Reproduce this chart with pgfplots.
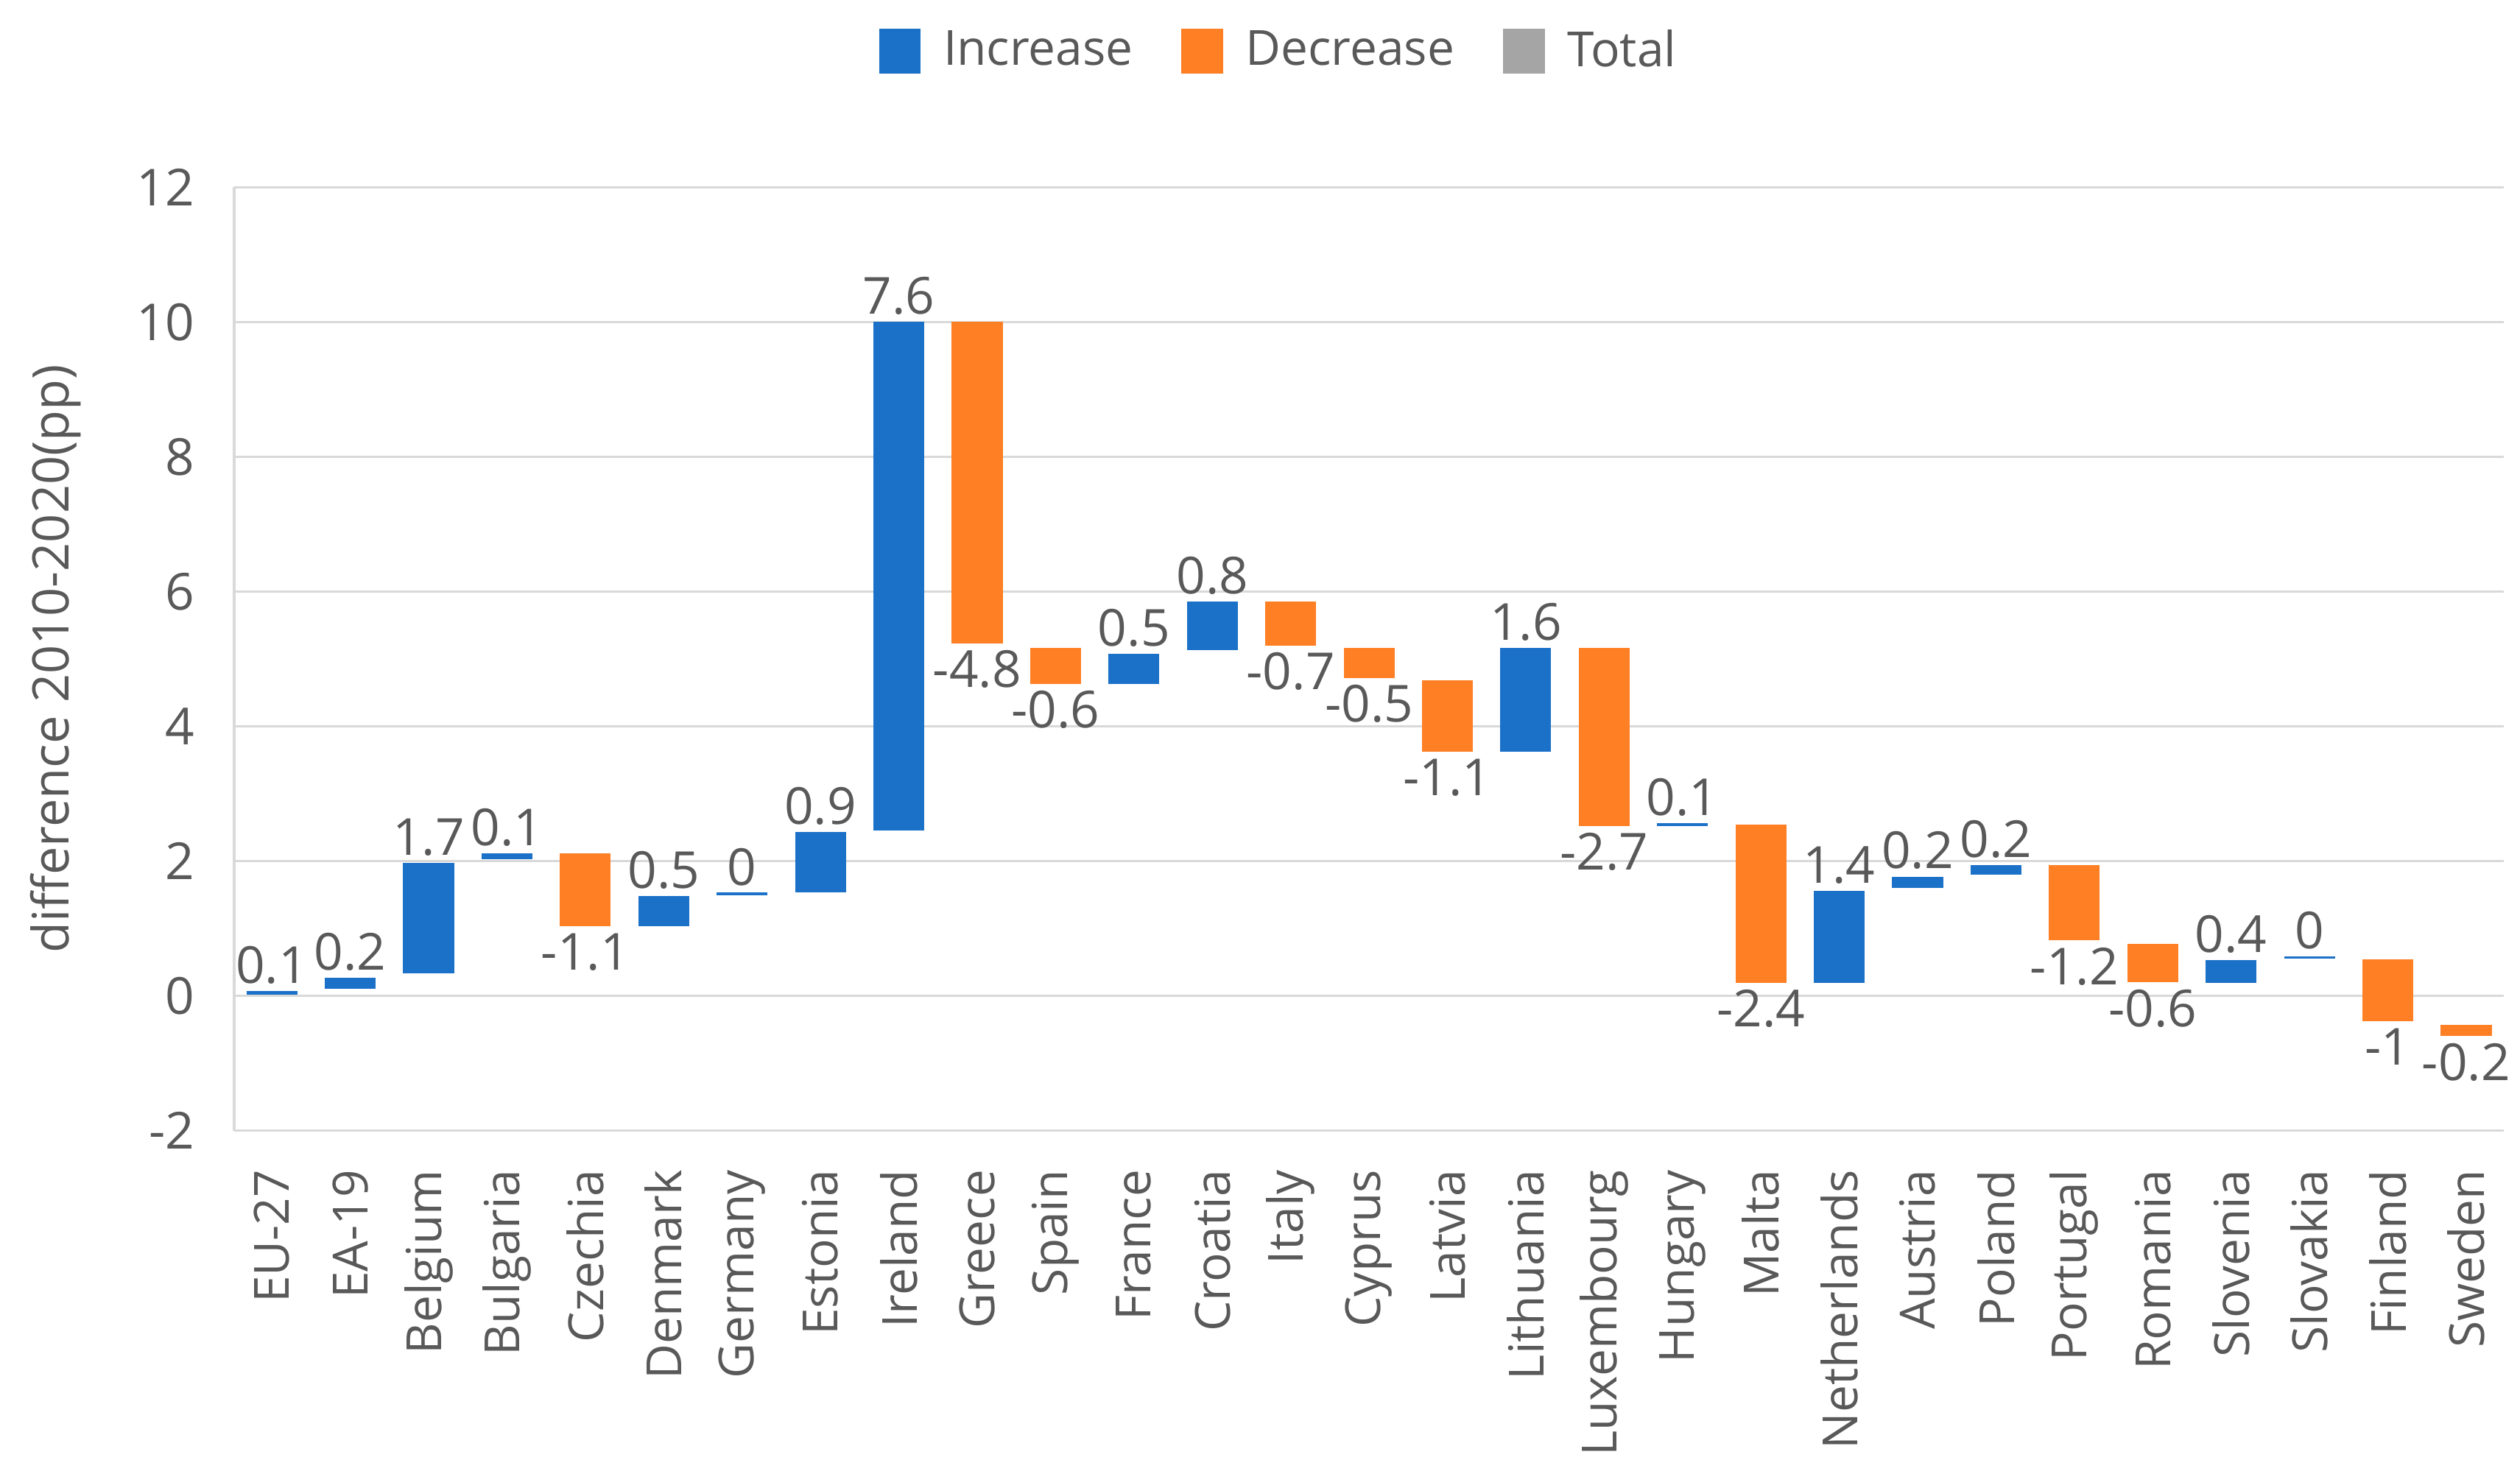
\documentclass[border=0pt]{standalone}
\usepackage{fontspec}
\setmainfont{Open Sans}
\usepackage{pgfplots}
\pgfplotsset{compat=1.18}
\usepackage{pgfplotstable}

\definecolor{incblue}{HTML}{1B70C8}
\definecolor{decorange}{HTML}{FE7F24}
\definecolor{totgray}{HTML}{A5A5A5}
\definecolor{txtgray}{HTML}{595959}
\definecolor{gridgray}{HTML}{D9D9D9}

% increases: bar goes from hi-d up to hi
\pgfplotstableread{
x   hi     d     lab
0   0.07   0.05  0.1
1   0.27   0.17  0.2
2   1.97   1.64  1.7
3   2.11   0.08  0.1
5   1.48   0.45  0.5
6   1.53   0.04  0
7   2.43   0.89  0.9
8   10.0   7.55  7.6
11  5.08   0.45  0.5
12  5.85   0.72  0.8
16  5.16   1.54  1.6
18  2.56   0.04  0.1
20  1.56   1.37  1.4
21  1.77   0.17  0.2
22  1.94   0.14  0.2
25  0.53   0.34  0.4
26  0.59   0.04  0
}\inctab

% decreases: bar goes from lo up to lo+d
\pgfplotstableread{
x   lo     d     lab
4   1.03   1.08  -1.1
9   5.23   4.77  -4.8
10  4.63   0.53  -0.6
13  5.20   0.65  -0.7
14  4.72   0.44  -0.5
15  3.62   1.06  -1.1
17  2.52   2.64  -2.7
19  0.19   2.35  -2.4
23  0.82   1.12  -1.2
24  0.20   0.57  -0.6
27  -0.38  0.92  -1
28  -0.60  0.17  -0.2
}\dectab

\newcommand\numfont{\fontsize{15.8}{18}\selectfont}

\begin{document}
\fontsize{15}{18}\selectfont
\begin{tikzpicture}
\useasboundingbox (-72.5pt,-102pt) rectangle (707.5pt,350pt);
\begin{axis}[
    at={(0pt,0pt)}, anchor=south west,
    width=702.5pt, height=292pt, scale only axis,
    xmin=-0.48, xmax=28.48,
    ymin=-2, ymax=12,
    ytick={-2,0,...,12},
    xtick={0,...,28},
    xticklabels={EU-27,EA-19,Belgium,Bulgaria,Czechia,Denmark,Germany,Estonia,Ireland,Greece,Spain,France,Croatia,Italy,Cyprus,Latvia,Lithuania,Luxembourg,Hungary,Malta,Netherlands,Austria,Poland,Portugal,Romania,Slovenia,Slovakia,Finland,Sweden},
    xticklabel style={rotate=90, anchor=east},
    xticklabel shift=7pt,
    yticklabel style={xshift=-7pt, font=\numfont},
    major tick length=0pt,
    axis lines*=left,
    axis line style={draw=gridgray, line width=0.9pt},
    x axis line style={-}, y axis line style={-},
    ymajorgrids, grid style={draw=gridgray, line width=0.7pt},
    tick label style={text=txtgray},
    /pgf/number format/assume math mode=true,
    ylabel={difference 2010-2020(pp)},
    ylabel style={text=txtgray, font=\fontsize{15.6}{18}\selectfont},
    ylabel shift=7pt,
    clip=false,
    legend columns=-1,
    legend style={at={(0.4612,1.1438)}, anchor=center, draw=none, fill=none,
        text=txtgray,
        /tikz/every odd column/.append style={column sep=5pt},
        /tikz/every even column/.append style={column sep=13pt}},
]
\addlegendimage{legend image code/.code={\fill[incblue] (0pt,-6.5pt) rectangle (12.5pt,7pt);}}
\addlegendentry{Increase}
\addlegendimage{legend image code/.code={\fill[decorange] (0pt,-6.5pt) rectangle (12.5pt,7pt);}}
\addlegendentry{Decrease}
\addlegendimage{legend image code/.code={\fill[totgray] (0pt,-6.5pt) rectangle (12.5pt,7pt);}}
\addlegendentry{Total}

\addplot[draw=none, mark=none, forget plot,
    point meta=explicit symbolic,
    nodes near coords,
    every node near coord/.append style={anchor=south, text=txtgray, inner sep=2pt, font=\numfont},
    error bars/.cd, y dir=minus, y explicit, error mark=none,
    error bar style={draw=incblue, line width=15.75pt}]
    table[x=x, y=hi, y error=d, meta=lab] {\inctab};

\addplot[draw=none, mark=none, forget plot,
    point meta=explicit symbolic,
    nodes near coords,
    every node near coord/.append style={anchor=north, text=txtgray, inner sep=2pt, font=\numfont},
    error bars/.cd, y dir=plus, y explicit, error mark=none,
    error bar style={draw=decorange, line width=15.75pt}]
    table[x=x, y=lo, y error=d, meta=lab] {\dectab};
\end{axis}
\end{tikzpicture}
\end{document}
